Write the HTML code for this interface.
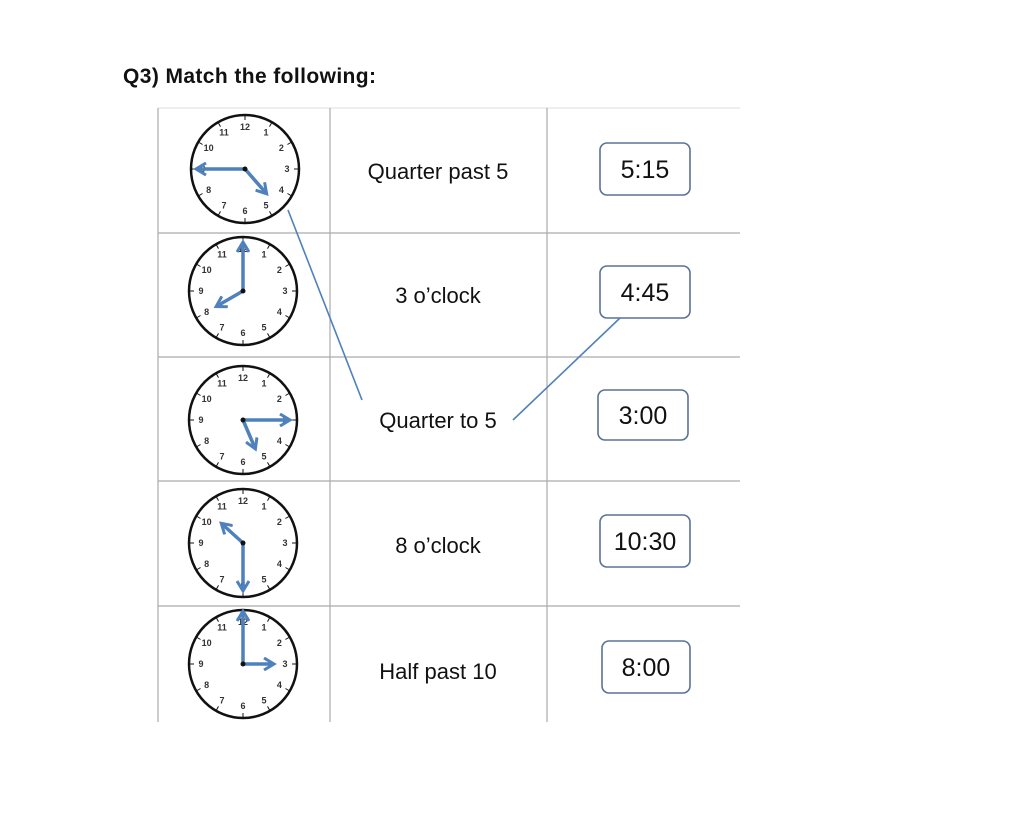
<!DOCTYPE html>
<html><head><meta charset="utf-8"><style>
body{margin:0;background:#fff;width:1024px;height:834px;overflow:hidden}
svg{display:block}
</style></head><body>
<svg id="s" width="1024" height="834" xmlns="http://www.w3.org/2000/svg" font-family="Liberation Sans, sans-serif">
<defs><marker id="ah" markerWidth="14" markerHeight="14" refX="10" refY="7" orient="auto" markerUnits="userSpaceOnUse"><path d="M1,1 L11,7 L1,13" fill="none" stroke="#4f81bd" stroke-width="3"/></marker></defs>
<text x="123" y="83" font-size="21" font-weight="bold" fill="#111" textLength="253">Q3) Match the following:</text>
<g stroke="#aaa" stroke-width="1.2">
<line x1="158" y1="108" x2="740" y2="108" stroke="#e4e4e4"/>
<line x1="158" y1="233" x2="740" y2="233"/>
<line x1="158" y1="357" x2="740" y2="357"/>
<line x1="158" y1="481" x2="740" y2="481"/>
<line x1="158" y1="606" x2="740" y2="606"/>
<line x1="158" y1="108" x2="158" y2="722"/>
<line x1="330" y1="108" x2="330" y2="722"/>
<line x1="547" y1="108" x2="547" y2="722"/>
</g>
<g font-size="22" fill="#111" text-anchor="middle">
<text x="438" y="179">Quarter past 5</text>
<text x="438" y="303">3 o’clock</text>
<text x="438" y="428">Quarter to 5</text>
<text x="438" y="553">8 o’clock</text>
<text x="438" y="679">Half past 10</text>
</g>
<g fill="#fff" stroke="#5a7296" stroke-width="1.6">
<rect x="600" y="143" width="90" height="52" rx="7"/>
<rect x="600" y="266" width="90" height="52" rx="7"/>
<rect x="598" y="390" width="90" height="50" rx="7"/>
<rect x="600" y="515" width="90" height="52" rx="7"/>
<rect x="602" y="641" width="88" height="52" rx="7"/>
</g>
<g font-size="25" fill="#111" text-anchor="middle">
<text x="645" y="178">5:15</text>
<text x="645" y="301">4:45</text>
<text x="643" y="424">3:00</text>
<text x="645" y="550">10:30</text>
<text x="646" y="676">8:00</text>
</g>
<g stroke="#4f81bd" stroke-width="1.6">
<line x1="288" y1="210" x2="362" y2="400"/>
<line x1="513" y1="420" x2="620" y2="318"/>
</g>
<g id="clocks"></g>
</svg>
<script>
var C=[[245,169,197,169,266,193],[243,291,243,243,217,306],[243,420,289,420,255,448],[243,543,222,524,243,590],[243,664,243,612,273,664]];
var g=document.getElementById('clocks'),h='';
C.forEach(function(c){var x=c[0],y=c[1],r=54;
h+='<circle cx="'+x+'" cy="'+y+'" r="'+r+'" fill="#fff" stroke="#111" stroke-width="2.5"/>';
for(var i=1;i<=12;i++){var a=i*Math.PI/6,s=Math.sin(a),co=-Math.cos(a);
h+='<line x1="'+(x+s*r)+'" y1="'+(y+co*r)+'" x2="'+(x+s*(r-5))+'" y2="'+(y+co*(r-5))+'" stroke="#111" stroke-width="1"/>';
h+='<text x="'+(x+s*(r-12))+'" y="'+(y+co*(r-12)+3)+'" font-size="9" font-weight="bold" text-anchor="middle" fill="#333">'+i+'</text>';}
h+='<line x1="'+x+'" y1="'+y+'" x2="'+c[2]+'" y2="'+c[3]+'" stroke="#4f81bd" stroke-width="3.5" marker-end="url(#ah)"/>';
h+='<line x1="'+x+'" y1="'+y+'" x2="'+c[4]+'" y2="'+c[5]+'" stroke="#4f81bd" stroke-width="3.5" marker-end="url(#ah)"/>';
h+='<circle cx="'+x+'" cy="'+y+'" r="2.5" fill="#111"/>';});
g.innerHTML=h;
</script>
</body></html>
